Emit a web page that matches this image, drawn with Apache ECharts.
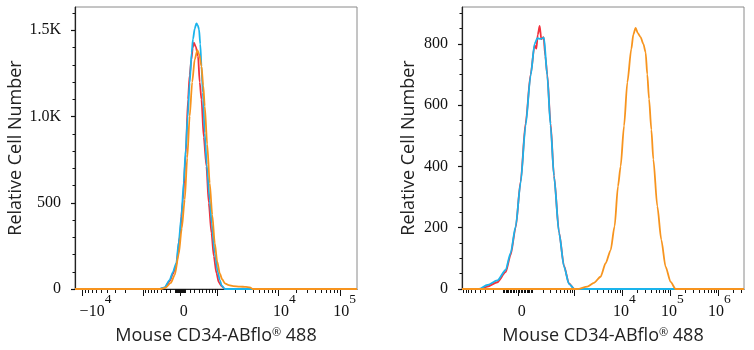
<!DOCTYPE html>
<html>
<head>
<meta charset="utf-8">
<script src="https://cdn.jsdelivr.net/npm/echarts@6/dist/echarts.min.js"></script>
<style>
html, body { margin: 0; padding: 0; background: #fff; }
#chart { width: 754px; height: 350px; }
</style>
</head>
<body>
<div id="chart"></div>
<script>
// histograms: [display channel (0-256), cell count]
var leftRed = [[0,0],[76.8,0],[81.4,8],[85.9,45],[88.7,85],[92.0,140],[95.0,300],[98.0,517],[100.5,780],[102.6,1099],[104.1,1240],[105.7,1331],[106.9,1400],[108.0,1428],[109.6,1405],[111.7,1350],[113.2,1200],[114.8,1099],[116.9,880],[119.3,711],[121.4,500],[123.9,324],[126.0,190],[128.4,93],[130.5,40],[133.0,17],[136.0,0],[256,0]];
var leftCyan = [[0,0],[76.8,0],[81.4,10],[85.9,52],[88.7,95],[92.0,150],[94.1,270],[96.6,420],[98.7,620],[100.5,808],[102.3,1000],[104.1,1196],[105.9,1370],[107.1,1448],[108.7,1510],[110.2,1540],[111.4,1530],[112.6,1505],[113.7,1420],[114.8,1292],[116.0,1140],[117.8,905],[119.6,720],[122.3,517],[124.1,380],[126.9,207],[129.6,100],[131.4,52],[133.2,20],[136.0,0],[256,0]];
var leftOrange = [[0,0],[77.8,0],[82.3,8],[86.9,35],[90.5,80],[94.1,200],[96.9,350],[99.6,517],[101.9,760],[104.1,1002],[106.4,1200],[108.7,1331],[111.1,1385],[112.8,1360],[114.8,1292],[116.4,1180],[117.8,1060],[120.0,840],[122.3,614],[124.6,430],[126.9,266],[129.1,160],[131.4,91],[133.7,55],[136.0,33],[139.6,22],[143.5,17],[149.6,14],[155.1,12],[158.7,10],[161.4,0],[256,0]];

var rightRed = [[0,0],[17.5,0],[23.0,8],[32.1,22],[39.6,55],[44.1,110],[48.7,200],[53.2,350],[57.7,540],[62.3,700],[65.9,795],[67.5,784],[68.8,830],[70.5,858],[72.0,815],[74.1,822],[75.6,760],[77.4,700],[80.4,540],[83.5,370],[88.1,185],[92.6,75],[97.1,18],[102.0,0],[256,0]];
var rightCyan = [[0,0],[15.4,0],[23.0,13],[32.1,28],[39.6,62],[44.1,117],[48.7,204],[53.2,346],[57.7,532],[62.3,696],[65.9,800],[68.4,818],[71.4,816],[74.4,820],[77.4,696],[80.4,532],[83.5,368],[88.1,183],[92.6,73],[97.1,17],[102.0,0],[256,0]];
var rightOrange = [[0,0],[104.7,0],[113.8,8],[119.8,20],[125.8,40],[130.4,84],[134.9,126],[138.5,204],[141.6,335],[144.0,400],[147.1,532],[150.1,674],[153.7,783],[155.5,830],[157.6,852],[159.6,835],[162.1,822],[164.6,800],[166.7,772],[168.2,700],[169.8,620],[171.9,520],[173.7,423],[177.3,270],[180.9,161],[184.8,73],[189.4,23],[193.9,0],[256,0]];

// tick labels (fluorescence values) and y ticks
var leftXLabels = [-1e4, 0, 1e4, 1e5];
var rightXLabels = [0, 1e4, 1e5, 1e6];
var leftYLabels = [0, 500, 1000, 1500];
var rightYLabels = [0, 200, 400, 600, 800];

var CH_MAX = 256;
// biexponential display scale: channel = zero + k * asinh(v / c)
var leftScale = {zero: 95.5, k: 24.49, c: 535};
var rightScale = {zero: 50.7, k: 18.93, c: 133};
// horizontal shift of each label so it sits like the original
var leftGaps = [26, 7, 13, 9];
var rightGaps = [8, 4, 4, 2];

var red = '#F2303C', cyan = '#1AB4EC', orange = '#F7941E';
var serif = 'Liberation Serif';
var sans = 'Open Sans';

function chan(s, v) { return s.zero + s.k * Math.asinh(v / s.c); }

function xTicks(s) {
    var major = [], minor = [];
    function add(v, big) {
        var ch = chan(s, v);
        if (ch >= 0 && ch <= CH_MAX) (big ? major : minor).push(ch);
    }
    add(0, true);
    for (var m = 1; m <= 6; m++) {
        for (var d = 1; d <= 9; d++) {
            var big = d === 1 && m >= 3;
            add(d * Math.pow(10, m), big);
            add(-d * Math.pow(10, m), big);
        }
    }
    major.sort(function (a, b) { return a - b; });
    minor.sort(function (a, b) { return a - b; });
    return {major: major, minor: minor};
}

function yMinor(step, max, majors) {
    var out = [];
    for (var v = step; v <= max; v += step) {
        if (majors.indexOf(v) < 0) out.push(v);
    }
    return out;
}

var rich = {
    n: {fontFamily: serif, fontSize: 16, lineHeight: 16, verticalAlign: 'bottom', color: '#111'},
    s: {fontFamily: serif, fontSize: 13.5, lineHeight: 13, verticalAlign: 'top', color: '#111'}
};
[].concat(leftGaps, rightGaps).forEach(function (g) {
    rich['g' + g] = {width: g, lineHeight: 28, fontSize: 2};
});

function labelText(v) {
    if (v === 0) return '{n|0}';
    var e = Math.round(Math.log10(Math.abs(v)));
    return '{n|' + (v < 0 ? '\u2212' : '') + '10}{s|' + e + '}';
}

function makeX(grid, s, labels, gaps) {
    var t = xTicks(s);
    var chs = labels.map(function (v) { return chan(s, v); });
    return [{
        gridIndex: grid, type: 'value', min: 0, max: CH_MAX, position: 'bottom',
        axisLine: {onZero: false, lineStyle: {color: '#222', width: 1.2}},
        splitLine: {show: false},
        axisTick: {customValues: t.major, length: 7, lineStyle: {color: '#111', width: 1}},
        axisLabel: {
            customValues: chs, margin: 3, rich: rich,
            formatter: function (val) {
                for (var i = 0; i < chs.length; i++) {
                    if (Math.abs(chs[i] - val) < 1e-6) {
                        return '{g' + gaps[i] + '| }' + labelText(labels[i]);
                    }
                }
                return '';
            }
        },
        name: 'Mouse CD34-ABflo{r|\u00AE} 488', nameLocation: 'middle', nameGap: 38,
        nameTextStyle: {
            fontFamily: sans, fontSize: 18, color: '#222',
            rich: {r: {fontFamily: sans, fontSize: 11, verticalAlign: 'top', color: '#222'}}
        }
    }, {
        gridIndex: grid, type: 'value', min: 0, max: CH_MAX, position: 'bottom',
        axisLine: {show: false, onZero: false},
        splitLine: {show: false},
        axisTick: {customValues: t.minor, length: 4, lineStyle: {color: '#111', width: 1}},
        axisLabel: {show: false}
    }];
}

function makeY(grid, max, labels, step, nameGap) {
    return [{
        gridIndex: grid, type: 'value', min: 0, max: max, position: 'left',
        axisLine: {show: true, lineStyle: {color: '#222', width: 1.2}},
        splitLine: {show: false},
        axisTick: {customValues: labels, length: 4, lineStyle: {color: '#111', width: 1.2}},
        axisLabel: {
            customValues: labels, margin: 14, fontFamily: serif, fontSize: 16, color: '#111',
            formatter: function (v) { return v >= 1000 ? (v / 1000).toFixed(1) + 'K' : String(v); }
        },
        name: 'Relative Cell Number', nameLocation: 'middle', nameGap: nameGap,
        nameTextStyle: {fontFamily: sans, fontSize: 18, color: '#222'}
    }, {
        gridIndex: grid, type: 'value', min: 0, max: max, position: 'left',
        axisLine: {show: false},
        splitLine: {show: false},
        axisTick: {customValues: yMinor(step, max, labels), length: 2.5, lineStyle: {color: '#111', width: 1}},
        axisLabel: {show: false}
    }];
}

function line(data, color, xi, yi) {
    return {
        type: 'line', data: data, xAxisIndex: xi, yAxisIndex: yi,
        showSymbol: false, smooth: 0.25, smoothMonotone: 'x',
        lineStyle: {color: color, width: 1.8}, silent: true
    };
}

var myChart = echarts.init(document.getElementById('chart'));
myChart.setOption({
    animation: false,
    backgroundColor: '#fff',
    grid: [
        {left: 75, top: 7, width: 282, height: 282, show: true, borderColor: '#8a8a8a', borderWidth: 1},
        {left: 462, top: 7, width: 282, height: 282, show: true, borderColor: '#8a8a8a', borderWidth: 1}
    ],
    xAxis: [].concat(makeX(0, leftScale, leftXLabels, leftGaps), makeX(1, rightScale, rightXLabels, rightGaps)),
    yAxis: [].concat(makeY(0, 1635, leftYLabels, 100, 50), makeY(1, 920, rightYLabels, 50, 44)),
    series: [
        line(leftRed, red, 0, 0),
        line(leftCyan, cyan, 0, 0),
        line(leftOrange, orange, 0, 0),
        line(rightRed, red, 2, 2),
        line(rightCyan, cyan, 2, 2),
        line(rightOrange, orange, 2, 2)
    ]
});
</script>
</body>
</html>
